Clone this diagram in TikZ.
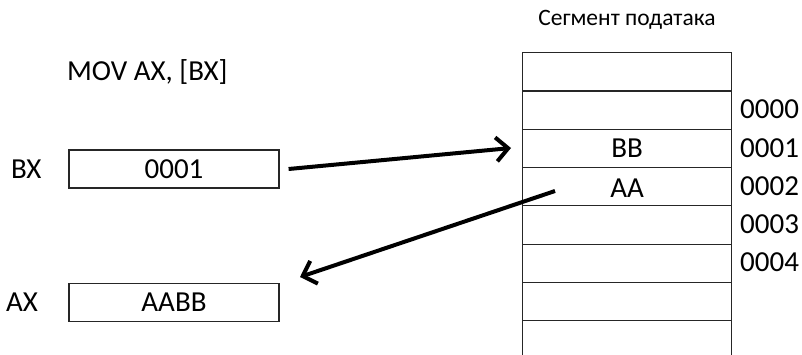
\documentclass[tikz,border=0pt]{standalone}
\usepackage{fontspec}
\setmainfont{Carlito}
\usetikzlibrary{arrows.meta,positioning}
\begin{document}
\begin{tikzpicture}[x=1pt,y=-1pt,
  cell/.style={draw=black!85,line width=1.2pt,minimum width=209pt,minimum height=38.3pt,inner sep=0pt,anchor=north west,font=\fontsize{29}{32}\selectfont},
  reg/.style={draw=black!85,line width=1.2pt,minimum width=210pt,minimum height=38pt,inner sep=0pt,font=\fontsize{29}{32}\selectfont},
  lbl/.style={inner sep=0pt,font=\fontsize{29}{32}\selectfont},
  arr/.style={line width=4pt,-{Straight Barb[length=12pt,width=24pt,line width=4pt]}}]
\useasboundingbox (0,0) rectangle (802,354);
% memory segment
\node[lbl,font=\fontsize{23.5}{26}\selectfont] (title) at (627,20) {Сегмент података};
\foreach \i in {0,...,7} {
  \node[cell] (m\i) at (522,{52+38.3*\i}) {};
}
\node[lbl] at (m2) {BB};
\node[lbl] at ([yshift=-2pt]m3.center) {AA};
\node[lbl,anchor=west] (a0) at (740,{52+38.3*1.5}) {0000};
\node[lbl,anchor=west] (a1) at (740,{52+38.3*2.5}) {0001};
\node[lbl,anchor=west] (a2) at (740,{52+38.3*3.5}) {0002};
\node[lbl,anchor=west] (a3) at (740,{52+38.3*4.5}) {0003};
\node[lbl,anchor=west] (a4) at (740,{52+38.3*5.5}) {0004};
% instruction
\node[lbl,anchor=west] (mov) at (67,72) {MOV AX, [BX]};
% registers
\node[reg] (bx) at (174,169) {0001};
\node[lbl,anchor=west] (bxl) at (11,169) {BX};
\node[reg] (ax) at (174,302.5) {AABB};
\node[lbl,anchor=west] (axl) at (6,302.5) {AX};
% arrows
\coordinate (s1) at ([xshift=9pt]bx.east);
\coordinate (e1) at (511,148);
\draw[arr] (s1) -- (e1);
\coordinate (s2) at (555,191);
\coordinate (e2) at (300,277);
\draw[arr] (s2) -- (e2);
\end{tikzpicture}
\end{document}
